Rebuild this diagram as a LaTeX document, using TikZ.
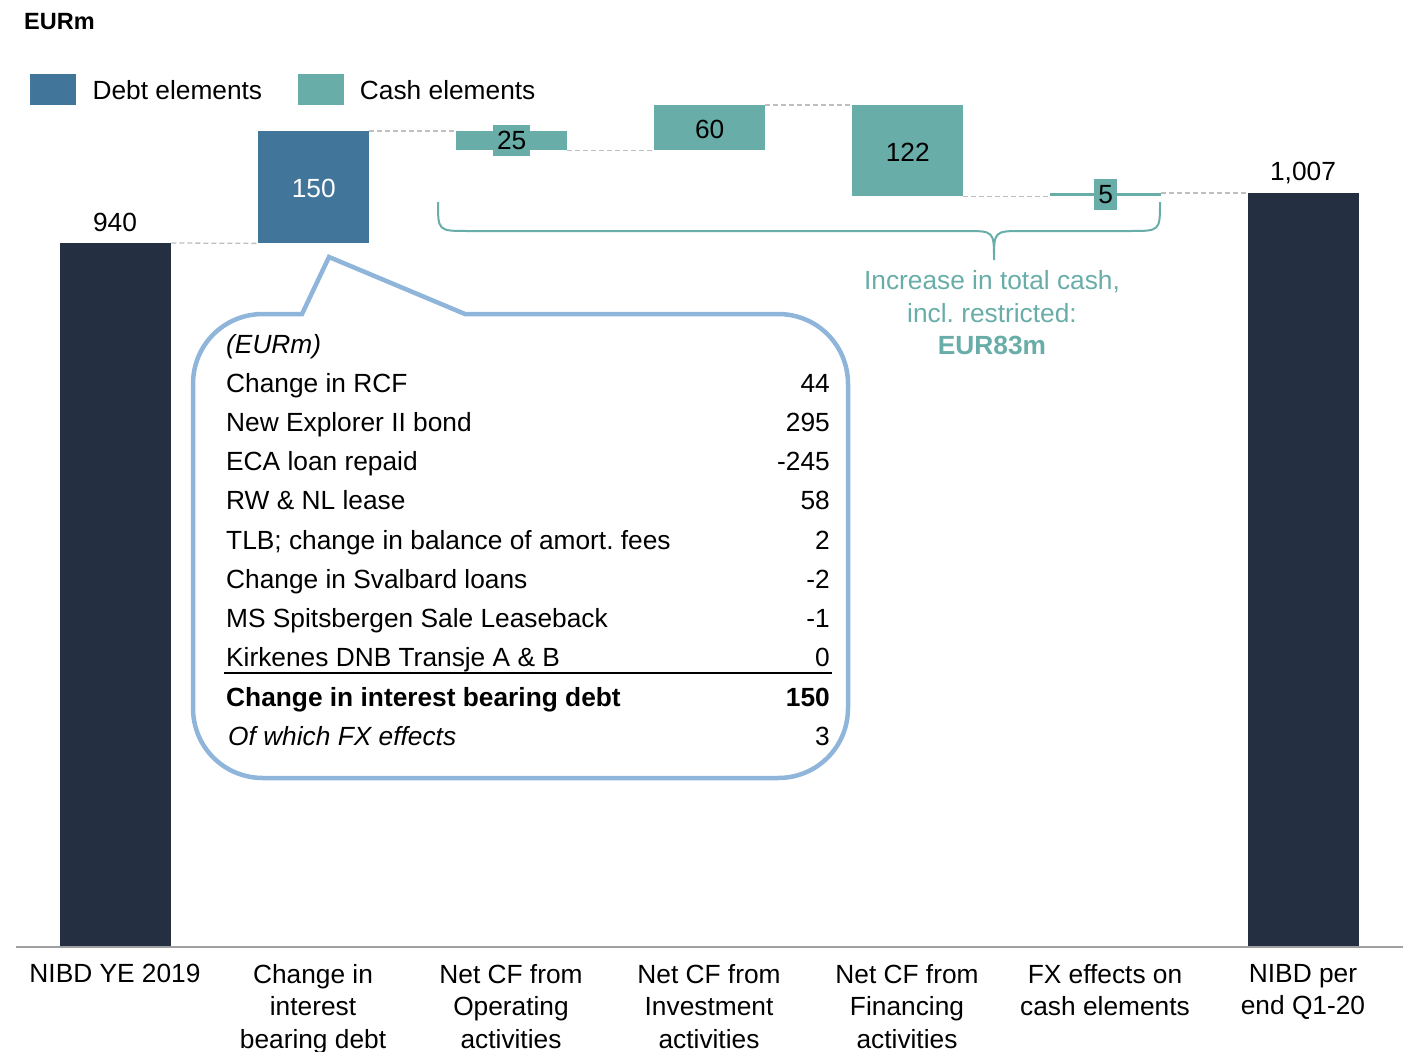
\documentclass[tikz,border=0pt]{standalone}
\usepackage{fontspec}
\setmainfont{Liberation Sans}
\usetikzlibrary{positioning}
\definecolor{navy}{HTML}{252F42}
\definecolor{debtblue}{HTML}{41769A}
\definecolor{cashteal}{HTML}{68ADA8}
\definecolor{callblue}{HTML}{8FB5DA}
\definecolor{dashgray}{HTML}{BFBFBF}
\definecolor{axisgray}{HTML}{A0A0A0}

\begin{document}
\begin{tikzpicture}[x=1pt,y=-1pt,
    every node/.style={font=\fontsize{26.3}{32.5}\selectfont,inner sep=0pt},
    bar/.style={inner sep=0pt,anchor=north west,minimum width=111},
    legbox/.style={inner sep=0pt,minimum width=46,minimum height=31},
    tag/.style={fill=cashteal,inner xsep=4pt,minimum height=31},
    link/.style={dashgray,line width=1.3,dash pattern=on 5pt off 3pt},
    cat/.style={align=center,anchor=north}]
  \useasboundingbox (0,0) rectangle (1414,1052);

  %% unit and legend
  \node[font=\fontsize{23.5}{28}\selectfont\bfseries,anchor=base west] (unit) at (24,29) {EURm};
  \node[legbox,fill=debtblue,anchor=north west] (legdebt) at (30,74) {};
  \node[right=16pt of legdebt] (legdebttxt) {Debt elements};
  \node[legbox,fill=cashteal,right=35pt of legdebttxt] (legcash) {};
  \node[right=16pt of legcash] (legcashtxt) {Cash elements};

  %% bars
  \node[bar,fill=navy,minimum height=704] (nibd0) at (60,243) {};
  \node[bar,fill=debtblue,minimum height=112] (debt) at (258,131) {};
  \node[bar,fill=cashteal,minimum height=19] (opcf) at (456,131) {};
  \node[bar,fill=cashteal,minimum height=45] (invcf) at (654,105) {};
  \node[bar,fill=cashteal,minimum height=91] (fincf) at (852,105) {};
  \node[bar,fill=cashteal,minimum height=3] (fxcash) at (1050,193) {};
  \node[bar,fill=navy,minimum height=754] (nibd1) at (1248,193) {};

  \draw[link] (nibd0.north east) -- (debt.south west);
  \draw[link] (debt.north east) -- (opcf.north west);
  \draw[link] (opcf.south east) -- (invcf.south west);
  \draw[link] (invcf.north east) -- (fincf.north west);
  \draw[link] (fincf.south east) -- (fxcash.south west);
  \draw[link] (fxcash.north east) -- (nibd1.north west);

  %% values
  \node (v940) at (115,222) {940};
  \node[text=white,yshift=-1.5pt] (v150) at (debt) {150};
  \node[tag] (v25) at (opcf) {25};
  \node[yshift=-1.5pt] (v60) at (invcf) {60};
  \node[yshift=-1.5pt] (v122) at (fincf) {122};
  \node[tag] (v5) at (fxcash) {5};
  \node (v1007) at (1303,173) {1,007};

  %% axis and categories
  \coordinate (axl) at (16,947);
  \coordinate (axr) at (1403,947);
  \draw[axisgray,line width=2] (axl) -- (axr);
  \foreach \i/\txt in {0/NIBD YE 2019,1/Change in\\interest\\bearing debt,
      2/Net CF from\\Operating\\activities,3/Net CF from\\Investment\\activities,
      4/Net CF from\\Financing\\activities,5/FX effects on\\cash elements,
      6/NIBD per\\end Q1-20} {
    \node[cat] (cat\i) at (115+198*\i,964) {\txt};
  }

  %% brace over the cash elements
  \draw[cashteal,line width=2] (438,202) .. controls (438,231) .. (468,231) -- (965,231)
    .. controls (994,231) .. (994,260) .. controls (994,231) .. (1023,231) -- (1130,231)
    .. controls (1160,231) .. (1160,202);
  \node[text=cashteal,align=center] (cashnote) at (992,313) {Increase in total cash,\\incl.\ restricted:\\\textbf{EUR83m}};

  %% callout with debt breakdown
  \draw[callblue,line width=4.5,line join=miter] (329,257) -- (302,314) -- (263,314)
    .. controls (224,314) and (193,345) .. (193,384) -- (193,708)
    .. controls (193,747) and (224,778) .. (263,778) -- (778,778)
    .. controls (817,778) and (848,747) .. (848,708) -- (848,384)
    .. controls (848,345) and (817,314) .. (778,314) -- (465,314) -- cycle;

  \node[anchor=base west] (hdr) at (226,353) {\itshape (EURm)};
  \foreach \n/\lbl/\val in {1/Change in RCF/44,2/New Explorer II bond/295,
      3/ECA loan repaid/-245,4/RW \& NL lease/58,
      5/TLB; change in balance of amort.\ fees/2,6/Change in Svalbard loans/-2,
      7/MS Spitsbergen Sale Leaseback/-1,8/Kirkenes DNB Transje A \& B/0} {
    \node[anchor=base west] (lbl\n) at (226,353+39.2*\n) {\lbl};
    \node[anchor=base east] (val\n) at (830,353+39.2*\n) {\val};
  }
  \coordinate (rulel) at (224,673);
  \coordinate (ruler) at (832,673);
  \draw[line width=1.5] (rulel) -- (ruler);
  \node[anchor=base west] (lbl9) at (226,706) {\bfseries Change in interest bearing debt};
  \node[anchor=base east] (val9) at (830,706) {\bfseries 150};
  \node[anchor=base west] (lbl10) at (228,745) {\itshape Of which FX effects};
  \node[anchor=base east] (val10) at (830,745) {3};
\end{tikzpicture}
\end{document}
